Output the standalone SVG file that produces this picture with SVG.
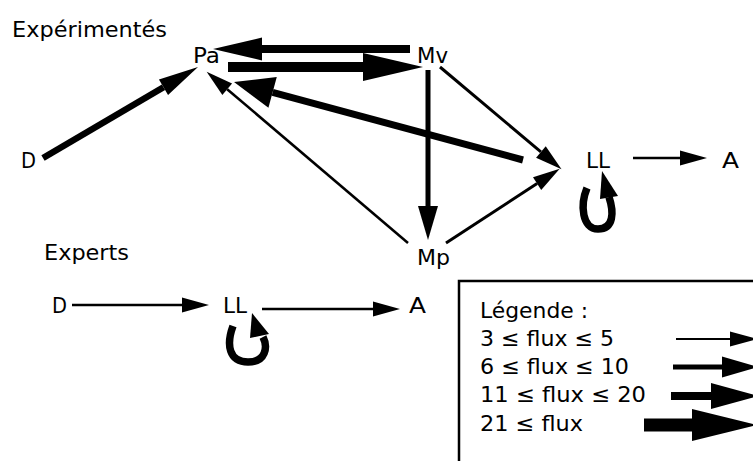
<svg xmlns="http://www.w3.org/2000/svg" width="753" height="461" viewBox="0 0 753 461">
<style>
text{font-family:"DejaVu Sans","Liberation Sans",sans-serif;font-size:22px;fill:#000}
.c line{stroke:#000;fill:none}
.loop{stroke:#000;fill:none;stroke-width:7.5}
.hd{fill:#000}
</style>
<defs>
<marker id="hA" markerUnits="userSpaceOnUse" orient="auto" overflow="visible" markerWidth="1" markerHeight="1"><path d="M0,-7.5 L27,0 L0,7.5z"/></marker>
<marker id="hB" markerUnits="userSpaceOnUse" orient="auto" overflow="visible" markerWidth="1" markerHeight="1"><path d="M0,-10 L34,0 L0,10z"/></marker>
<marker id="hU" markerUnits="userSpaceOnUse" orient="auto" overflow="visible" markerWidth="1" markerHeight="1"><path d="M0,-11.5 L49,0 L0,11.5z"/></marker>
<marker id="hV" markerUnits="userSpaceOnUse" orient="auto" overflow="visible" markerWidth="1" markerHeight="1"><path d="M0,-14 L60,0 L0,14z"/></marker>
<marker id="hW" markerUnits="userSpaceOnUse" orient="auto" overflow="visible" markerWidth="1" markerHeight="1"><path d="M0,-9 L40,0 L0,9z"/></marker>
<marker id="hX" markerUnits="userSpaceOnUse" orient="auto" overflow="visible" markerWidth="1" markerHeight="1"><path d="M0,-16 L40,0 L0,16z"/></marker>
<marker id="L1" markerUnits="userSpaceOnUse" orient="auto" overflow="visible" markerWidth="1" markerHeight="1"><path d="M0,-7.5 L28,0 L0,7.5z"/></marker>
<marker id="L2" markerUnits="userSpaceOnUse" orient="auto" overflow="visible" markerWidth="1" markerHeight="1"><path d="M0,-10.5 L36,0 L0,10.5z"/></marker>
<marker id="L3" markerUnits="userSpaceOnUse" orient="auto" overflow="visible" markerWidth="1" markerHeight="1"><path d="M0,-13 L47,0 L0,13z"/></marker>
<marker id="L4" markerUnits="userSpaceOnUse" orient="auto" overflow="visible" markerWidth="1" markerHeight="1"><path d="M0,-16 L65,0 L0,16z"/></marker>
</defs>
<rect width="753" height="461" fill="#fff"/>

<text x="12" y="37" textLength="155" lengthAdjust="spacingAndGlyphs">Expérimentés</text>
<text x="44" y="260" textLength="85" lengthAdjust="spacingAndGlyphs">Experts</text>

<g id="exp-Pa"><text x="193" y="63" textLength="27" lengthAdjust="spacingAndGlyphs">Pa</text></g>
<g id="exp-Mv"><text x="417" y="63" textLength="31" lengthAdjust="spacingAndGlyphs">Mv</text></g>
<g id="exp-D"><text x="21" y="168" textLength="15" lengthAdjust="spacingAndGlyphs">D</text></g>
<g id="exp-LL"><text x="586" y="168" textLength="24" lengthAdjust="spacingAndGlyphs">LL</text></g>
<g id="exp-A"><text x="722" y="168" textLength="17" lengthAdjust="spacingAndGlyphs">A</text></g>
<g id="exp-Mp"><text x="417" y="265" textLength="33" lengthAdjust="spacingAndGlyphs">Mp</text></g>

<g id="xp-D"><text x="52" y="313" textLength="15" lengthAdjust="spacingAndGlyphs">D</text></g>
<g id="xp-LL"><text x="223" y="313" textLength="24" lengthAdjust="spacingAndGlyphs">LL</text></g>
<g id="xp-A"><text x="409" y="313" textLength="17" lengthAdjust="spacingAndGlyphs">A</text></g>

<g id="connectors" class="c">
<line x1="410" y1="49" x2="262" y2="49" stroke-width="8" marker-end="url(#hU)"/>
<line x1="228" y1="67" x2="363" y2="67" stroke-width="10" marker-end="url(#hV)"/>
<line x1="43" y1="158" x2="163.5" y2="87.3" stroke-width="6.5" marker-end="url(#hW)"/>
<line x1="523" y1="160" x2="272.6" y2="92.4" stroke-width="7" marker-end="url(#hX)"/>
<line x1="408" y1="243" x2="227.2" y2="89.2" stroke-width="2.5" marker-end="url(#hA)"/>
<line x1="428" y1="70" x2="428" y2="206" stroke-width="5" marker-end="url(#hB)"/>
<line x1="440" y1="67" x2="540.9" y2="151.9" stroke-width="3" marker-end="url(#hA)"/>
<line x1="446" y1="243" x2="537.1" y2="183.6" stroke-width="3" marker-end="url(#hA)"/>
<line x1="633" y1="158" x2="680" y2="158" stroke-width="2.5" marker-end="url(#hA)"/>
<path class="loop" d="M587,188 C580,205 582,229 598,229 C614,229 614,212 609,197"/>
<polygon class="hd" points="602,171 618,196 600,199"/>
<line x1="72" y1="305" x2="182" y2="305" stroke-width="2.5" marker-end="url(#hA)"/>
<line x1="262" y1="309" x2="373" y2="309" stroke-width="2.5" marker-end="url(#hA)"/>
<path class="loop" d="M233,326 C226,345 229,362 248,362 C266,362 268,347 263,337"/>
<polygon class="hd" points="252,313 269,334 250,338"/>
</g>

<g id="legend">
<rect x="459" y="281" width="400" height="300" fill="none" stroke="#000" stroke-width="2.5"/>
<text x="480" y="318" textLength="108" lengthAdjust="spacingAndGlyphs">Légende :</text>
<text x="480" y="346" textLength="134" lengthAdjust="spacingAndGlyphs">3 ≤ flux ≤ 5</text>
<text x="480" y="374" textLength="149" lengthAdjust="spacingAndGlyphs">6 ≤ flux ≤ 10</text>
<text x="480" y="402" textLength="166" lengthAdjust="spacingAndGlyphs">11 ≤ flux ≤ 20</text>
<text x="480" y="431" textLength="103" lengthAdjust="spacingAndGlyphs">21 ≤ flux</text>
<g class="c">
<line x1="676" y1="339" x2="730" y2="339" stroke-width="2" marker-end="url(#L1)"/>
<line x1="673" y1="367" x2="722" y2="367" stroke-width="5" marker-end="url(#L2)"/>
<line x1="671" y1="396" x2="711" y2="396" stroke-width="8" marker-end="url(#L3)"/>
<line x1="644" y1="425" x2="692" y2="425" stroke-width="13" marker-end="url(#L4)"/>
</g>
</g>
</svg>
